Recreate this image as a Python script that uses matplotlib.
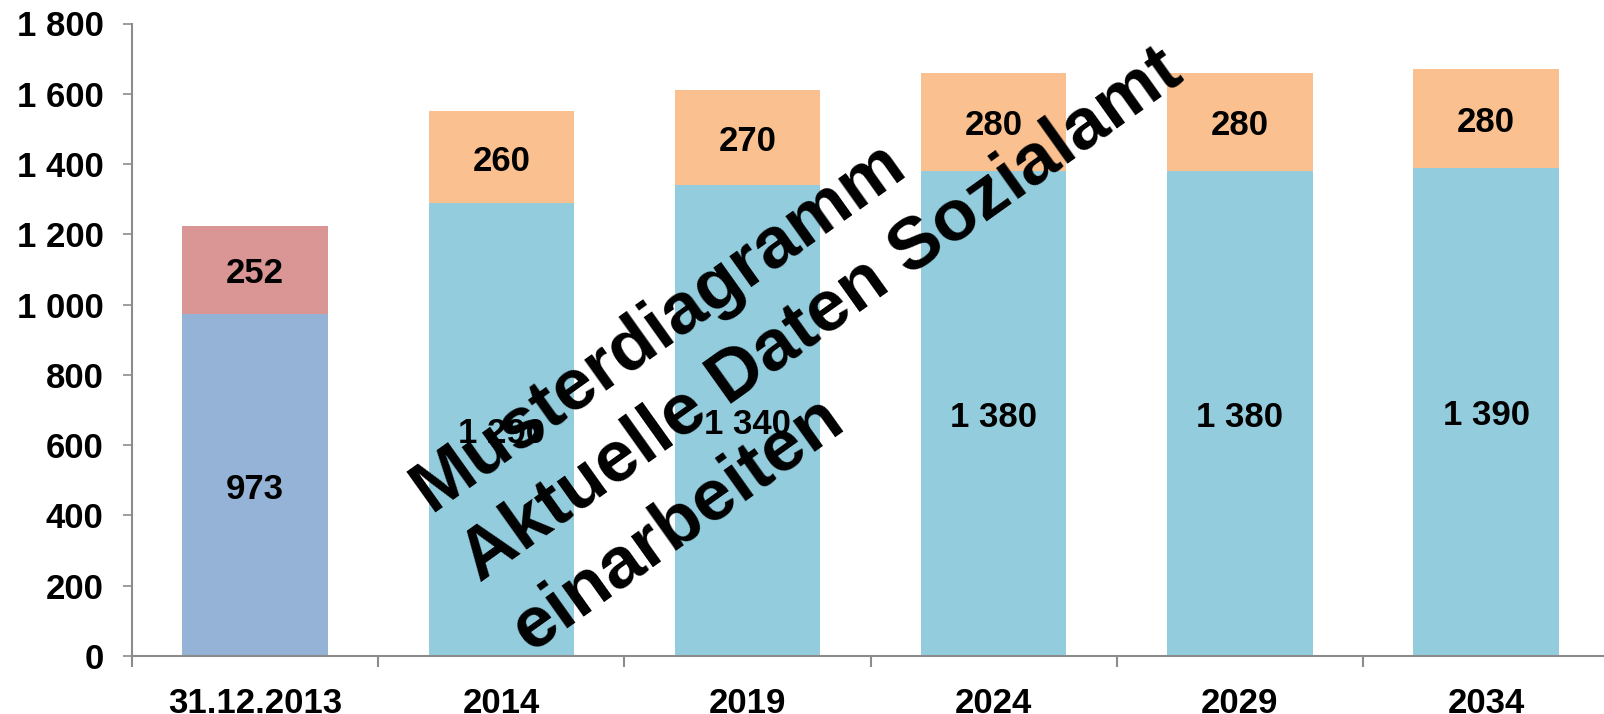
import math
import matplotlib
matplotlib.use("Agg")
import matplotlib.pyplot as plt
from matplotlib.ticker import FixedLocator, FuncFormatter
from matplotlib.transforms import offset_copy

categories = ["31.12.2013", "2014", "2019", "2024", "2029", "2034"]
bottom_values = [973, 1290, 1340, 1380, 1380, 1390]
top_values = [252, 260, 270, 280, 280, 280]
bottom_colors = ["#95B3D7", "#93CDDD", "#93CDDD", "#93CDDD", "#93CDDD", "#93CDDD"]
top_colors = ["#D99694", "#FAC090", "#FAC090", "#FAC090", "#FAC090", "#FAC090"]
y_ticks = [0, 200, 400, 600, 800, 1000, 1200, 1400, 1600, 1800]
watermark_lines = ["Musterdiagramm", "Aktuelle Daten Sozialamt", "einarbeiten"]

FONT = ["Liberation Sans", "DejaVu Sans"]
plt.rcParams["font.family"] = FONT

W, H = 1604, 714
fig = plt.figure(figsize=(W / 100, H / 100), dpi=100)

x0, x_zero, y_top = 132, 656, 23.5
cat_w = 246.2
ax = fig.add_axes([x0 / W, (H - x_zero) / H, 6 * cat_w / W, (x_zero - y_top) / H])

x = list(range(len(categories)))
bw = 0.59
ax.bar(x, bottom_values, width=bw, color=bottom_colors, linewidth=0)
ax.bar(x, top_values, width=bw, bottom=bottom_values, color=top_colors, linewidth=0)

def fmt(v):
    return f"{v:,}".replace(",", " ")

lab_tr = offset_copy(ax.transData, fig=fig, x=0, y=-4, units="dots")
for i in x:
    b, t = bottom_values[i], top_values[i]
    ax.text(i, b / 2, fmt(b), ha="center", va="center", fontsize=25,
            fontweight="bold", color="black", transform=lab_tr)
    ax.text(i, b + t / 2, fmt(t), ha="center", va="center", fontsize=25,
            fontweight="bold", color="black", transform=lab_tr)

ax.set_xlim(-0.5, len(categories) - 0.5)
ax.set_ylim(0, 1800)
ax.yaxis.set_major_locator(FixedLocator(y_ticks))
ax.yaxis.set_major_formatter(FuncFormatter(lambda v, p: fmt(int(v))))
ax.set_xticks(x)
ax.set_xticklabels(categories)
ax.set_xticks([i - 0.5 for i in range(len(categories) + 1)], minor=True)

for s in ["top", "right"]:
    ax.spines[s].set_visible(False)
for s in ["left", "bottom"]:
    ax.spines[s].set_color("#8C8C8C")
    ax.spines[s].set_linewidth(1.5)

ax.tick_params(axis="y", which="major", direction="out", length=6.5, width=1.2,
               color="#8C8C8C", pad=14, labelsize=25)
ax.tick_params(axis="x", which="major", length=0, pad=22, labelsize=25)
ax.tick_params(axis="x", which="minor", direction="out", length=8, width=1.5,
               color="#8C8C8C")
for lab in ax.get_xticklabels() + ax.get_yticklabels():
    lab.set_fontweight("bold")

# watermark
ang = 35.5
start_x, start_y = 430, 513
spacing = 86
dxp = math.sin(math.radians(ang)) * spacing
dyp = math.cos(math.radians(ang)) * spacing
for k, line in enumerate(watermark_lines):
    px = start_x + k * dxp
    py = start_y + k * dyp
    fig.text(px / W, 1 - py / H, line, ha="left", va="baseline", rotation=ang,
             rotation_mode="anchor", fontsize=52.5, fontweight="bold",
             color="black", zorder=10)

fig.savefig("out.png", dpi=100)
